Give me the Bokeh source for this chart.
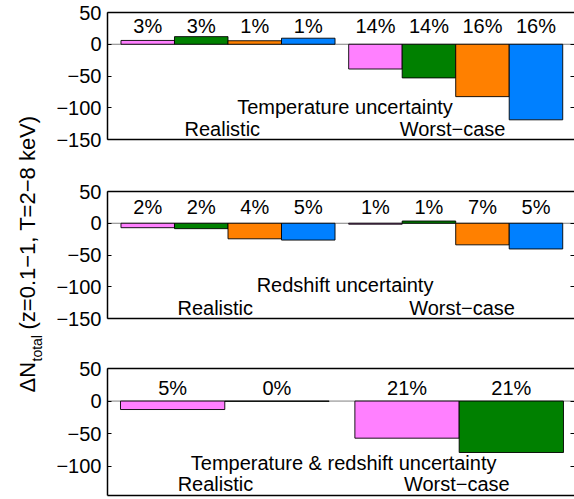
import math
from bokeh.plotting import figure
from bokeh.models import Range1d, FixedTicker, LinearAxis, Span, Label, ColumnDataSource
from bokeh.layouts import row, column
from bokeh.embed import file_html
from bokeh.resources import INLINE
from bokeh.core.properties import value

FONT = "Liberation Sans"

# ---------------- data ----------------
bar_colors4 = ["#FF80FF", "#008000", "#FF8000", "#0080FF"]
bar_colors2 = ["#FF80FF", "#008000"]
groups = [1, 2]
case_names = ["Realistic", "Worst\u2212case"]

# Temperature uncertainty (rows: realistic, worst-case)
temp_vals = [[6, 12, 5.5, 9.5], [-39, -53, -82.5, -119]]
temp_pct = [["3%", "3%", "1%", "1%"], ["14%", "14%", "16%", "16%"]]
# Redshift uncertainty
z_vals = [[-7, -8.5, -24.5, -26.5], [-1.5, 3.5, -34, -40.5]]
z_pct = [["2%", "2%", "4%", "5%"], ["1%", "1%", "7%", "5%"]]
# Temperature & redshift uncertainty
tz_vals = [[-13, -0.4], [-57, -79]]
tz_pct = [["5%", "0%"], ["21%", "21%"]]

titles = ["Temperature uncertainty", "Redshift uncertainty",
          "Temperature & redshift uncertainty"]

ticks_full = [-150, -100, -50, 0, 50]
tick_labels_full = ["\u2212150", "\u2212100", "\u221250", "0", "50"]
ticks_short = [-100, -50, 0, 50]
tick_labels_short = ["\u2212100", "\u221250", "0", "50"]


def make_panel(vals, pcts, colors, bar_w, xr, yr, ticks, tick_labels,
               pct_y, title, title_x, title_y, case_x, case_y,
               height, mb_top, mb_bottom):
    p = figure(width=526, height=height, x_range=Range1d(*xr), y_range=Range1d(*yr),
               toolbar_location=None, output_backend="svg",
               x_axis_location=None, y_axis_location="left",
               min_border_left=59, min_border_right=0,
               min_border_top=mb_top, min_border_bottom=mb_bottom)
    p.outline_line_color = None
    p.grid.visible = False
    p.background_fill_color = "white"
    p.border_fill_color = "white"

    # baseline at zero
    p.add_layout(Span(location=0, dimension="width", line_color="#808080",
                      line_width=1, level="underlay"))

    n = len(colors)
    xs, tops, cols, labs = [], [], [], []
    for gi, g in enumerate(groups):
        for i in range(n):
            xs.append(g + (i - (n - 1) / 2) * bar_w)
            tops.append(vals[gi][i])
            cols.append(colors[i])
            labs.append(pcts[gi][i])
    src = ColumnDataSource(dict(x=xs, top=tops, color=cols, lab=labs,
                                ly=[pct_y] * len(xs)))
    p.vbar(x="x", top="top", bottom=0, width=bar_w, fill_color="color",
           line_color="black", line_width=0.9, source=src)
    p.text(x="x", y="ly", text="lab", source=src, text_align="center",
           text_baseline="middle", text_font=value(FONT),
           text_font_size="20px", text_color="black")

    p.add_layout(Label(x=title_x, y=title_y, text=title, text_align="center",
                       text_baseline="alphabetic", text_font=FONT,
                       text_font_size="20px", text_color="black"))
    for cx, cn in zip(case_x, case_names):
        p.add_layout(Label(x=cx, y=case_y, text=cn, text_align="center",
                           text_baseline="alphabetic", text_font=FONT,
                           text_font_size="20px", text_color="black"))

    overrides = {float(t): l for t, l in zip(ticks, tick_labels)}
    ya = p.yaxis[0]
    ya.ticker = FixedTicker(ticks=ticks)
    ya.major_label_overrides = overrides
    ya.major_tick_in = 4
    ya.major_tick_out = 0
    ya.minor_tick_in = 0
    ya.minor_tick_out = 0
    ya.axis_line_width = 1.5
    ya.axis_line_color = "black"
    ya.major_tick_line_color = "black"
    ya.major_label_standoff = 6
    ya.major_label_text_font = FONT
    ya.major_label_text_font_size = "20px"
    ya.major_label_text_color = "black"

    # right-hand inward ticks, no labels, no line (frame continues beyond the page)
    ra = LinearAxis(ticker=FixedTicker(ticks=ticks), axis_line_color=None,
                    major_tick_in=4, major_tick_out=0, minor_tick_in=0,
                    minor_tick_out=0, major_label_text_font_size="1px",
                    major_label_text_color=None,
                    major_label_standoff=0, major_tick_line_color="black")
    p.add_layout(ra, "right")
    for side in ("above", "below"):
        ax = LinearAxis(ticker=FixedTicker(ticks=[]), axis_line_color="black",
                        axis_line_width=1.5, major_tick_in=0, major_tick_out=0,
                        minor_tick_in=0, minor_tick_out=0,
                        major_label_text_font_size="1px",
                        major_label_text_color=None, major_label_standoff=0)
        p.add_layout(ax, side)
    return p


p1 = make_panel(temp_vals, temp_pct, bar_colors4, 0.235, (0.4708, 2.5217),
                (-150, 50), ticks_full, tick_labels_full, 28,
                titles[0], 1.514, -99, [0.975, 1.986], -133,
                165, 12, 26)
p2 = make_panel(z_vals, z_pct, bar_colors4, 0.235, (0.4708, 2.5217),
                (-150, 50), ticks_full, tick_labels_full, 25,
                titles[1], 1.514, -98, [0.944, 2.028], -133,
                178, 26, 25)
p3 = make_panel(tz_vals, tz_pct, bar_colors2, 0.445, (0.4996, 2.492),
                (-145, 50), ticks_short, tick_labels_short, 20,
                titles[2], 1.507, -95, [0.96, 1.99], -128,
                156, 25, 4)

# y-axis label column
lab = figure(width=48, height=499, x_range=Range1d(0, 48), y_range=Range1d(0, 499),
             toolbar_location=None, output_backend="svg",
             x_axis_location=None, y_axis_location=None,
             min_border_left=0, min_border_right=0, min_border_top=0, min_border_bottom=0)
lab.outline_line_color = None
lab.grid.visible = False
lab.add_layout(Label(x=27, y=107, text="\u0394N", angle=math.pi / 2,
                     text_align="left", text_baseline="alphabetic",
                     text_font=FONT, text_font_size="22px", text_color="black"))
lab.add_layout(Label(x=36, y=138, text="total", angle=math.pi / 2,
                     text_align="left", text_baseline="alphabetic",
                     text_font=FONT, text_font_size="14px", text_color="black"))
lab.add_layout(Label(x=27, y=170, text="(z=0.1\u22121, T=2\u22128 keV)",
                     angle=math.pi / 2, text_align="left",
                     text_baseline="alphabetic", text_font=FONT,
                     text_font_size="22px", text_color="black"))

layout = row(lab, column(p1, p2, p3, spacing=0), spacing=0)

with open("out.html", "w") as f:
    f.write(file_html(layout, INLINE))
